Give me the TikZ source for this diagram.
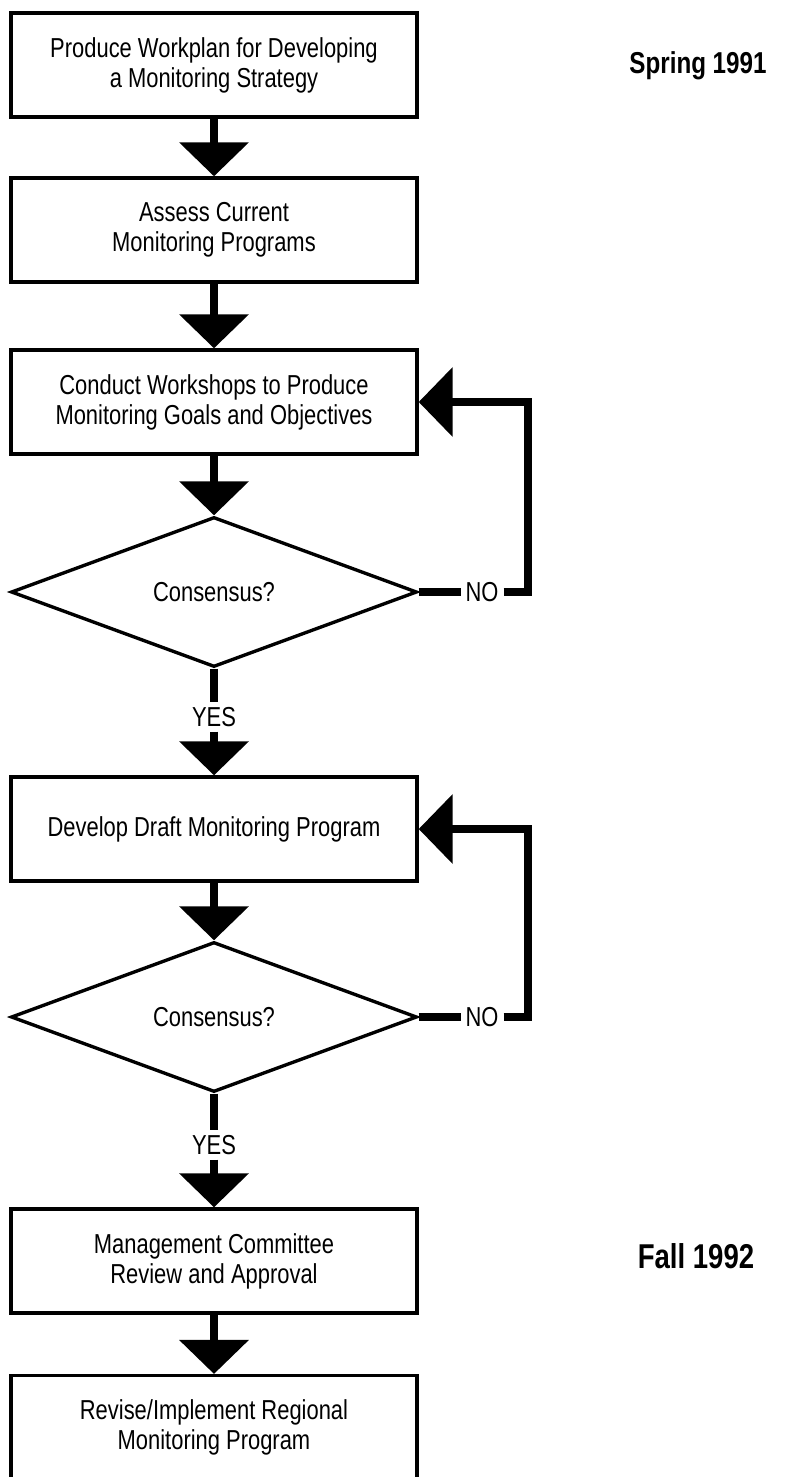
\documentclass[tikz,border=0pt]{standalone}
\usepackage{fontspec}
\setmainfont{Liberation Sans}[FakeStretch=0.8]
\usetikzlibrary{arrows.meta,positioning,shapes.geometric}

\begin{document}
\begin{tikzpicture}[font=\fontsize{19.5}{21.3}\selectfont, line join=miter,
  box/.style={draw, line width=2.4pt, minimum width=10.15cm, minimum height=2.6cm, align=center, inner sep=0pt},
  frage/.style={draw, diamond, line width=2.4pt, minimum width=10.15cm, minimum height=3.75cm, inner sep=0pt},
  linie/.style={line width=0.2cm},
  pfeil/.style={linie, -{Triangle[width=1.7cm,length=0.85cm]}},
  datum/.style={font=\bfseries\fontsize{21.5}{25}\selectfont}]
  \useasboundingbox (0,0) rectangle (19.7,-36.925);
  % Arbeitsschritte
  \node[box] (workplan) at (5.35,-1.625) {Produce Workplan for Developing\\a Monitoring Strategy};
  \node[box] (assess) at (5.35,-5.75) {Assess Current\\Monitoring Programs};
  \node[box] (workshops) at (5.35,-10.05) {Conduct Workshops to Produce\\Monitoring Goals and Objectives};
  \node[frage] (konsens1) at (5.35,-14.8) {Consensus?};
  \node (ja1) at (5.35,-17.925) {YES};
  \node[box] (entwurf) at (5.35,-20.725) {Develop Draft Monitoring Program};
  \node[frage] (konsens2) at (5.35,-25.425) {Consensus?};
  \node (ja2) at (5.35,-28.625) {YES};
  \node[box] (review) at (5.35,-31.525) {Management Committee\\Review and Approval};
  \node[box] (umsetzung) at (5.35,-35.69) {Revise/Implement Regional\\Monitoring Program};
  % Nein-Zweige
  \node[right=1.05cm of konsens1] (nein1) {NO};
  \node[right=1.05cm of konsens2] (nein2) {NO};
  \coordinate (schleife) at (13.2,0);
  % Zeitangaben
  \node[datum] (fruehjahr) at (17.45,-1.65) {Spring 1991};
  \node[datum, font=\bfseries\fontsize{24.5}{28}\selectfont] (herbst) at (17.4,-31.4) {Fall 1992};
  % Hauptfluss
  \draw[pfeil] (workplan) -- (assess);
  \draw[pfeil] (assess) -- (workshops);
  \draw[pfeil] (workshops) -- (konsens1);
  \draw[linie] (konsens1) -- (ja1);
  \draw[pfeil] (ja1) -- (entwurf);
  \draw[pfeil] (entwurf) -- (konsens2);
  \draw[linie] (konsens2) -- (ja2);
  \draw[pfeil] (ja2) -- (review);
  \draw[pfeil] (review) -- (umsetzung);
  % Rueckfuehrungen
  \draw[linie] (konsens1) -- (nein1);
  \draw[pfeil] (nein1.east) -- (nein1.east -| schleife) |- (workshops.east);
  \draw[linie] (konsens2) -- (nein2);
  \draw[pfeil] (nein2.east) -- (nein2.east -| schleife) |- (entwurf.east);
\end{tikzpicture}
\end{document}
